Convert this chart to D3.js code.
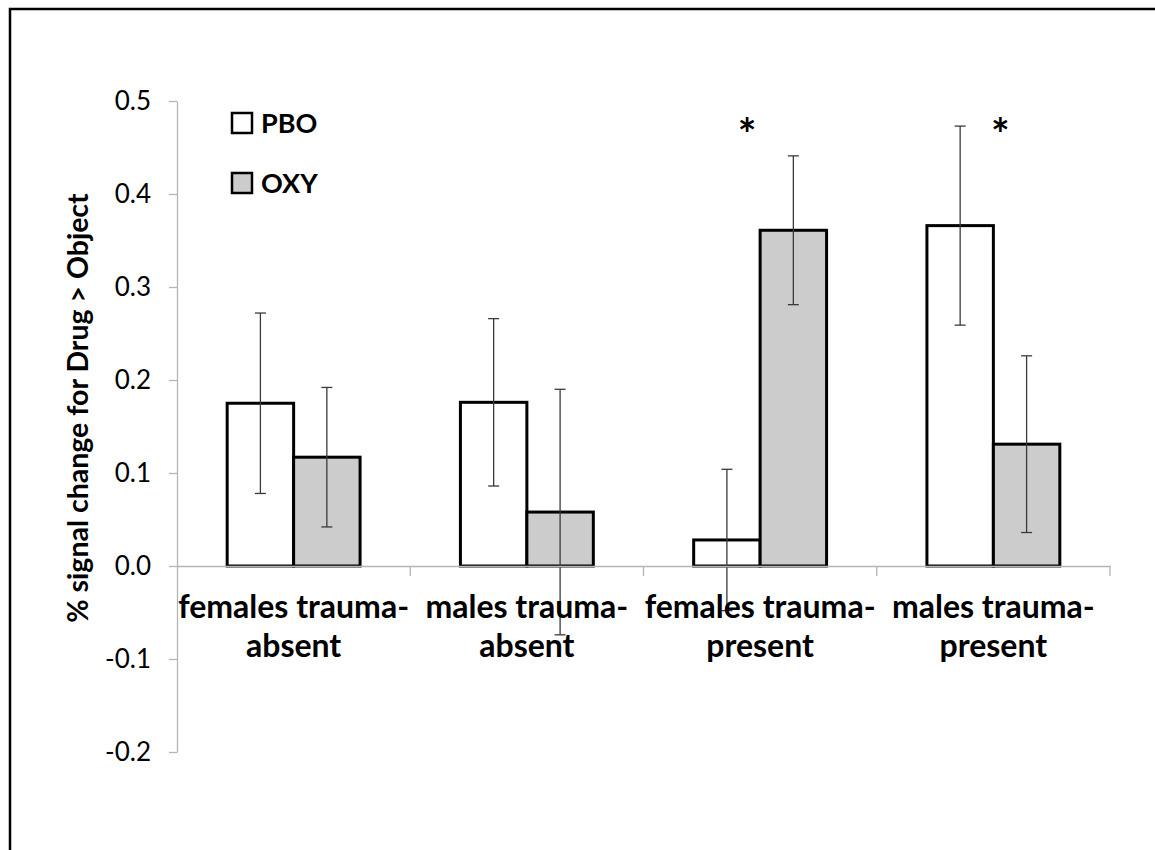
<html>
<head>
<meta charset="utf-8">
<script src="https://d3js.org/d3.v7.min.js"></script>
<style>
  body { margin: 0; background: #fff; }
  text { font-family: Lato, "Open Sans", sans-serif; }
</style>
</head>
<body>
<svg id="chart" width="1155" height="850"></svg>
<script>
// chart values
const categories = ["females trauma-absent", "males trauma-absent", "females trauma-present", "males trauma-present"];
const categoryLines = [["females trauma-", "absent"], ["males trauma-", "absent"], ["females trauma-", "present"], ["males trauma-", "present"]];
const series = ["PBO", "OXY"];
const pboValues = [0.175, 0.176, 0.028, 0.366];
const oxyValues = [0.117, 0.058, 0.361, 0.131];
const pboErrors = [0.097, 0.090, 0.076, 0.107];
const oxyErrors = [0.075, 0.132, 0.080, 0.095];
const yTicks = [-0.2, -0.1, 0.0, 0.1, 0.2, 0.3, 0.4, 0.5];
const starred = ["females trauma-present", "males trauma-present"];
const yLabel = "% signal change for Drug > Object";

const fills = {PBO: "#ffffff", OXY: "#cccccc"};
const starNudge = [-13, 7];   // the stars are not quite centred in the original

const svg = d3.select("#chart");

// outer frame (only top and left edges show in the picture)
svg.append("rect")
  .attr("x", 10).attr("y", 9)
  .attr("width", 1300).attr("height", 1000)
  .attr("fill", "none")
  .attr("stroke", "#000")
  .attr("stroke-width", 2.5);

const plotLeft = 177, plotRight = 1110, plotTop = 101, plotBottom = 752;

const y = d3.scaleLinear().domain([-0.2, 0.5]).range([plotBottom, plotTop]);
const x = d3.scaleBand().domain(categories).range([plotLeft, plotRight]).padding(0);
const xs = d3.scaleBand().domain(series).range([0, x.bandwidth()]).paddingInner(0).paddingOuter(0.755);

const rows = categories.map((c, i) => ({
  cat: c,
  PBO: {v: pboValues[i], e: pboErrors[i]},
  OXY: {v: oxyValues[i], e: oxyErrors[i]}
}));

const fmt = d3.format(".1f");

// y axis
const yAxis = svg.append("g")
  .attr("transform", `translate(${plotLeft},0)`)
  .call(d3.axisLeft(y).tickValues(yTicks)
    .tickFormat(d => fmt(d).replace("\u2212", "-"))
    .tickSize(8).tickSizeOuter(0).tickPadding(18));
yAxis.select(".domain").attr("stroke", "#b5b5b5").attr("stroke-width", 1.3);
yAxis.selectAll(".tick line").attr("stroke", "#b5b5b5").attr("stroke-width", 1.3);
yAxis.selectAll(".tick text")
  .attr("font-size", 26)
  .attr("fill", "#000")
  .style("font-family", "Lato, sans-serif");

// bars
const groups = svg.append("g").selectAll("g")
  .data(rows)
  .join("g")
  .attr("transform", d => `translate(${x(d.cat)},0)`);

groups.selectAll("rect")
  .data(d => series.map(s => ({s: s, v: d[s].v, e: d[s].e})))
  .join("rect")
  .attr("x", d => xs(d.s))
  .attr("y", d => y(Math.max(0, d.v)))
  .attr("width", xs.bandwidth())
  .attr("height", d => Math.abs(y(d.v) - y(0)))
  .attr("fill", d => fills[d.s])
  .attr("stroke", "#000")
  .attr("stroke-width", 3);

// x axis line with category ticks
const xAxis = svg.append("g")
  .attr("transform", `translate(0,${y(0)})`)
  .call(d3.axisBottom(x).tickValues([]).tickSizeOuter(0));
xAxis.select(".domain").attr("stroke", "#b5b5b5").attr("stroke-width", 1.3);
xAxis.selectAll(".sep")
  .data(categories.slice(1).concat(["end"]))
  .join("line")
  .attr("class", "sep")
  .attr("x1", (d, i) => i < 3 ? x(d) : plotRight)
  .attr("x2", (d, i) => i < 3 ? x(d) : plotRight)
  .attr("y1", 0).attr("y2", 10)
  .attr("stroke", "#b5b5b5").attr("stroke-width", 1.3);

// error bars
const err = groups.selectAll("g.err")
  .data(d => series.map(s => ({s: s, v: d[s].v, e: d[s].e})))
  .join("g")
  .attr("class", "err")
  .attr("stroke", "#3a3a3a")
  .attr("stroke-width", 1.3);
err.append("line")
  .attr("x1", d => xs(d.s) + xs.bandwidth() / 2)
  .attr("x2", d => xs(d.s) + xs.bandwidth() / 2)
  .attr("y1", d => y(d.v + d.e))
  .attr("y2", d => y(d.v - d.e));
err.selectAll("line.cap")
  .data(d => [d.v + d.e, d.v - d.e].map(val => ({s: d.s, val: val})))
  .join("line")
  .attr("class", "cap")
  .attr("x1", d => xs(d.s) + xs.bandwidth() / 2 - 5.5)
  .attr("x2", d => xs(d.s) + xs.bandwidth() / 2 + 5.5)
  .attr("y1", d => y(d.val))
  .attr("y2", d => y(d.val));

// category labels
const labels = svg.append("g").selectAll("text")
  .data(categories)
  .join("text")
  .attr("text-anchor", "middle")
  .attr("font-weight", "bold")
  .attr("font-size", 32)
  .attr("fill", "#000");
labels.selectAll("tspan")
  .data((d, i) => categoryLines[i].map(t => ({t: t, c: d})))
  .join("tspan")
  .attr("x", d => x(d.c) + x.bandwidth() / 2)
  .attr("y", (d, i) => y(0) + 52 + i * 39)
  .text(d => d.t);

// significance stars
svg.append("g").selectAll("text")
  .data(starred)
  .join("text")
  .attr("x", (d, i) => x(d) + x.bandwidth() / 2 + starNudge[i])
  .attr("y", y(0.475) + 26)
  .attr("text-anchor", "middle")
  .attr("font-weight", "bold")
  .attr("font-size", 44)
  .text("*");

// y axis title
svg.append("text")
  .attr("transform", `translate(78,408) rotate(-90)`)
  .attr("dy", "0.35em")
  .attr("text-anchor", "middle")
  .attr("font-weight", "bold")
  .attr("font-size", 28.5)
  .text(yLabel);

// legend
const legend = svg.append("g").selectAll("g")
  .data(series)
  .join("g")
  .attr("transform", (d, i) => `translate(232,${113 + i * 60})`);
legend.append("rect")
  .attr("width", 20).attr("height", 20)
  .attr("fill", d => fills[d])
  .attr("stroke", "#000")
  .attr("stroke-width", 2.5);
legend.append("text")
  .attr("x", 29)
  .attr("y", 20)
  .attr("font-weight", "bold")
  .attr("font-size", 27)
  .text(d => d);
</script>
</body>
</html>
